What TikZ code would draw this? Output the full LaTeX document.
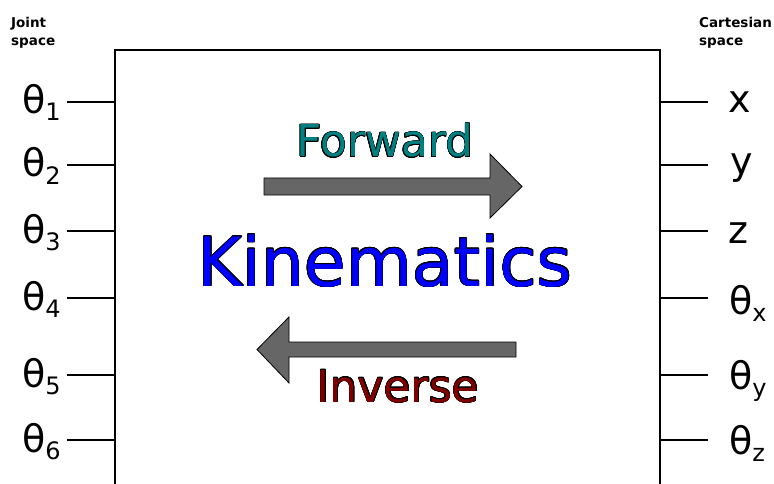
\documentclass[tikz,border=0pt]{standalone}
\usepackage{fontspec}
\setmainfont{DejaVu Sans}
\usepackage[copies]{contour}
\contourlength{0.55pt}
\definecolor{fwdcol}{RGB}{0,128,128}
\definecolor{invcol}{RGB}{128,0,0}
\definecolor{kincol}{RGB}{0,0,255}
\definecolor{arrcol}{RGB}{102,102,102}
\tikzset{
  lbl/.style={anchor=base west, inner sep=0pt, font=\fontsize{38}{38}\selectfont},
  hdr/.style={anchor=base west, inner sep=0pt, font=\bfseries\fontsize{13.5}{18}\selectfont},
  tick/.style={line width=2pt},
  bigarrow/.style={fill=arrcol, draw=black, line width=0.8pt},
}
\newcommand{\mysubs}[1]{\raisebox{-7pt}{\fontsize{24}{24}\selectfont #1}}
\begin{document}
\begin{tikzpicture}[x=1pt,y=-1pt]
\useasboundingbox (0,0) rectangle (774,484);
% box
\draw[line width=2pt] (115,490) -- (115,50) -- (660,50) -- (660,490);
% headers
\node[hdr] (js1) at (11,28) {Joint};
\node[hdr] (js2) at (11,46) {space};
\node[hdr] (cs1) at (699,28) {Cartesian};
\node[hdr] (cs2) at (699,46) {space};
% left ticks and labels
\foreach \i/\y in {1/102,2/165,3/231,4/298,5/375,6/440}{
  \coordinate (la\i) at (67,\y);
  \coordinate (lb\i) at (115,\y);
  \draw[tick] (la\i) -- (lb\i);
  \node[lbl] (lt\i) at (22,\y+12) {θ\mysubs{\i}};
}
% right ticks
\foreach \i/\y in {1/102,2/165,3/231,4/298,5/375,6/440}{
  \coordinate (ra\i) at (660,\y);
  \coordinate (rb\i) at (708,\y);
  \draw[tick] (ra\i) -- (rb\i);
}
\node[lbl] (rx) at (728,113) {x};
\node[lbl] (ry) at (730,175) {y};
\node[lbl] (rz) at (728,243) {z};
\node[lbl] (rtx) at (729,314) {θ\mysubs{x}};
\node[lbl] (rty) at (729,389) {θ\mysubs{y}};
\node[lbl] (rtz) at (729,454) {θ\mysubs{z}};
% arrows
\draw[bigarrow] (264,178) -- (490,178) -- (490,154) -- (522,186.5) -- (490,218) -- (490,195) -- (264,195) -- cycle;
\draw[bigarrow] (516,342) -- (289,342) -- (289,317) -- (257,349.5) -- (289,383) -- (289,357) -- (516,357) -- cycle;
% texts
\node[anchor=base, inner sep=0pt, font=\fontsize{44}{44}\selectfont] (fwd) at (385,157) {\contour{black}{\textcolor{fwdcol}{Forward}}};
\node[anchor=base, inner sep=0pt, font=\fontsize{68}{68}\selectfont] (kin) at (385,286) {\contour{black}{\textcolor{kincol}{Kinematics}}};
\node[anchor=base, inner sep=0pt, font=\fontsize{44}{44}\selectfont] (inv) at (398,402) {\contour{black}{\textcolor{invcol}{Inverse}}};
\end{tikzpicture}
\end{document}
